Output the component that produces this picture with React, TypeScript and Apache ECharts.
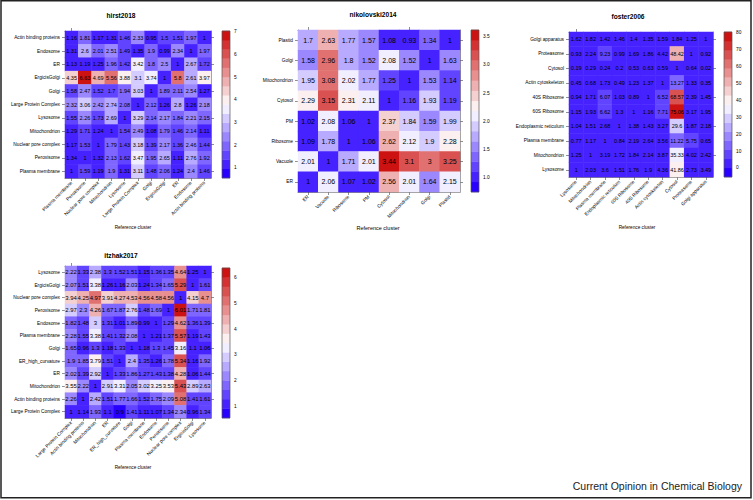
import { useEffect, useRef } from "react";
import * as echarts from "echarts";

// ---------------- DATA ----------------
const hirstRows = ["Actin binding proteins", "Endosome", "ER", "ErgicisGolgi", "Golgi", "Large Protein Complex", "Lysosome", "Mitochondrion", "Nuclear pore complex", "Peroxisome", "Plasma membrane"];
const hirstCols = ["Plasma membrane", "Peroxisome", "Nuclear pore complex", "Mitochondrion", "Lysosome", "Large Protein Complex", "Golgi", "ErgicisGolgi", "ER", "Endosome", "Actin binding proteins"];
const hirstValues = [
  [1.16, 1.81, 1.17, 1.31, 1.46, 2.33, 0.95, 1.5, 1.51, 1.97, 1],
  [1.31, 2.6, 2.01, 2.51, 1.49, 1.35, 1.9, 0.99, 2.34, 1, 1.97],
  [1.13, 1.19, 1.25, 1.96, 1.42, 3.42, 1.8, 2.5, 1, 2.67, 1.72],
  [4.35, 6.63, 4.69, 5.56, 3.88, 3.1, 3.74, 1, 5.8, 2.61, 3.97],
  [1.58, 2.47, 1.52, 1.7, 1.94, 3.03, 1, 1.89, 2.11, 2.54, 1.27],
  [2.32, 3.06, 2.42, 2.74, 2.08, 1, 2.12, 1.26, 2.8, 1.26, 2.18],
  [1.55, 2.26, 1.73, 2.69, 1, 3.29, 2.14, 2.17, 1.84, 2.21, 2.15],
  [1.29, 1.71, 1.24, 1, 1.54, 2.49, 1.08, 1.79, 1.46, 2.14, 1.11],
  [1.17, 1.53, 1, 1.79, 1.43, 3.18, 1.39, 2.17, 1.36, 2.46, 1.44],
  [1.34, 1, 1.32, 2.13, 1.62, 3.47, 1.95, 2.65, 1.11, 2.76, 1.92],
  [1, 1.59, 1.19, 1.9, 1.31, 3.11, 1.48, 2.06, 1.24, 2.4, 1.46],
];
const hirstTicks = [1, 2, 3, 4, 5, 6, 7];

const nikoRows = ["Plastid", "Golgi", "Mitochondrion", "Cytosol", "PM", "Ribosome", "Vacuole", "ER"];
const nikoCols = ["ER", "Vacuole", "Ribosome", "PM", "Cytosol", "Mitochondrion", "Golgi", "Plastid"];
const nikoValues = [
  [1.7, 2.63, 1.77, 1.57, 1.08, 0.93, 1.34, 1],
  [1.58, 2.96, 1.8, 1.52, 2.08, 1.52, 1, 1.63],
  [1.95, 3.08, 2.02, 1.77, 1.25, 1, 1.53, 1.14],
  [2.29, 3.15, 2.31, 2.11, 1, 1.16, 1.93, 1.19],
  [1.02, 2.08, 1.06, 1, 2.37, 1.84, 1.59, 1.99],
  [1.09, 1.78, 1, 1.06, 2.62, 2.12, 1.9, 2.28],
  [2.01, 1, 1.71, 2.01, 3.44, 3.1, 3, 3.25],
  [1, 2.06, 1.07, 1.02, 2.56, 2.01, 1.64, 2.15],
];
const nikoTicks = [1.0, 1.5, 2.0, 2.5, 3.0, 3.5];

const fosterRows = ["Golgi apparatus", "Proteasome", "Cytosol", "Actin cytoskeleton", "40S Ribosome", "60S Ribosome", "Endoplasmic reticulum", "Plasma membrane", "Mitochondrion", "Lysosome"];
const fosterCols = ["Lysosome", "Mitochondrion", "Plasma membrane", "Endoplasmic reticulum", "60S Ribosome", "40S Ribosome", "Actin cytoskeleton", "Cytosol", "Proteasome", "Golgi apparatus"];
const fosterValues = [
  [1.62, 1.82, 1.42, 1.46, 1.4, 1.35, 1.59, 1.84, 1.25, 1],
  [0.93, 2.24, 9.23, 0.99, 1.69, 1.86, 4.42, 48.42, 1, 0.92],
  [0.19, 0.29, 0.24, 0.2, 0.53, 0.63, 0.59, 1, 0.64, 0.02],
  [0.45, 0.68, 1.73, 0.49, 1.23, 1.37, 1, 13.27, 1.33, 0.35],
  [0.94, 1.71, 6.07, 1.03, 0.89, 1, 6.52, 68.57, 2.39, 1.45],
  [1.15, 1.93, 6.62, 1.3, 1, 1.16, 7.71, 75.06, 3.17, 1.95],
  [1.04, 1.51, 2.68, 1, 1.38, 1.43, 3.27, 29.6, 1.87, 2.18],
  [0.77, 1.17, 1, 0.84, 2.19, 2.64, 3.56, 11.22, 5.75, 0.65],
  [1.25, 1, 3.19, 1.72, 1.84, 2.14, 3.87, 35.33, 4.02, 2.42],
  [1, 2.03, 3.6, 1.51, 1.76, 1.9, 4.36, 41.86, 2.73, 3.49],
];
const fosterTicks = [0, 10, 20, 30, 40, 50, 60, 70, 80];

const itzhakRows = ["Lysosome", "ErgicisGolgi", "Nuclear pore complex", "Peroxisome", "Endosome", "Plasma membrane", "Golgi", "ER_high_curvature", "ER", "Mitochondrion", "Actin binding proteins", "Large Protein Complex"];
const itzhakCols = ["Large Protein Complex", "Actin binding proteins", "Mitochondrion", "ER", "ER_high_curvature", "Golgi", "Plasma membrane", "Endosome", "Peroxisome", "Nuclear pore complex", "ErgicisGolgi", "Lysosome"];
const itzhakValues = [
  [2.22, 1.33, 2.38, 1.3, 1.52, 1.51, 1.15, 1.36, 1.35, 4.64, 1.25, 1],
  [2.07, 1.51, 3.38, 1.26, 1.16, 2.03, 1.24, 1.34, 1.65, 5.29, 1, 1.61],
  [3.94, 4.25, 4.97, 3.91, 4.27, 4.53, 4.56, 4.58, 4.56, 1, 4.15, 4.7],
  [2.97, 2.3, 4.26, 1.67, 1.87, 2.76, 1.48, 1.69, 1, 6.01, 1.71, 1.81],
  [1.82, 1.48, 3, 1.31, 1.01, 1.89, 0.99, 1, 1.29, 4.62, 1.36, 1.39],
  [2.28, 1.55, 3.38, 1.41, 1.32, 2.08, 1, 1.21, 1.37, 5.57, 1.19, 1.43],
  [1.65, 0.96, 1.3, 1.18, 1.33, 1, 1.18, 1.3, 1.45, 3.16, 1.1, 1.06],
  [1.9, 1.85, 3.79, 1.51, 1, 2.4, 1.35, 1.26, 1.78, 5.34, 1.16, 1.92],
  [2.02, 1.39, 2.92, 1, 1.33, 1.86, 1.27, 1.43, 1.38, 4.28, 1.06, 1.44],
  [3.55, 2.22, 1, 2.91, 3.31, 2.05, 3.02, 3.25, 3.53, 5.43, 2.89, 2.63],
  [2.26, 1, 2.42, 1.51, 1.77, 1.66, 1.52, 1.75, 2.09, 5.08, 1.41, 1.61],
  [1, 1.14, 1.93, 1.1, 0.9, 1.41, 1.11, 1.07, 1.34, 2.34, 0.96, 1.34],
];
const itzhakTicks = [1, 2, 3, 4, 5, 6];

// ---------------- STYLE / LAYOUT ----------------
const FONT = "'Liberation Sans', Arial, Helvetica, sans-serif";
const BLUE = [40, 0, 255];
const WHITE = [255, 255, 255];
const RED = [205, 18, 18];
const NBINS = 16;

function ramp(t: number) {
  const a = t < 0.5 ? BLUE : WHITE;
  const b = t < 0.5 ? WHITE : RED;
  const u = t < 0.5 ? t / 0.5 : (t - 0.5) / 0.5;
  const c = a.map((v, i) => Math.round(v + (b[i] - v) * u));
  return `rgb(${c[0]},${c[1]},${c[2]})`;
}

type Panel = {
  name: string; rows: string[]; cols: string[]; values: number[][]; ticks: number[];
  tickFmt: (v: number) => string;
  plot: { left: number; top: number; width: number; height: number };
  bar: { left: number; top: number; width: number; height: number };
  cellFont: number; title: [number, number]; xname: [number, number]; xnameFont: number;
};

const panels: Panel[] = [
  {
    name: "hirst2018", rows: hirstRows, cols: hirstCols, values: hirstValues, ticks: hirstTicks,
    tickFmt: (v) => String(v),
    plot: { left: 65, top: 31, width: 146, height: 147 },
    bar: { left: 222, top: 31, width: 8, height: 147 },
    cellFont: 5.5, title: [121, 15], xname: [133, 227], xnameFont: 4.7,
  },
  {
    name: "nikolovski2014", rows: nikoRows, cols: nikoCols, values: nikoValues, ticks: nikoTicks,
    tickFmt: (v) => v.toFixed(1),
    plot: { left: 298, top: 30, width: 162, height: 162 },
    bar: { left: 471, top: 30, width: 8, height: 162 },
    cellFont: 7, title: [373, 14], xname: [378, 228], xnameFont: 5.5,
  },
  {
    name: "foster2006", rows: fosterRows, cols: fosterCols, values: fosterValues, ticks: fosterTicks,
    tickFmt: (v) => String(v),
    plot: { left: 569, top: 32, width: 144, height: 145 },
    bar: { left: 724, top: 32, width: 8, height: 145 },
    cellFont: 5.5, title: [628, 16], xname: [637, 227], xnameFont: 4.7,
  },
  {
    name: "itzhak2017", rows: itzhakRows, cols: itzhakCols, values: itzhakValues, ticks: itzhakTicks,
    tickFmt: (v) => String(v),
    plot: { left: 65, top: 266, width: 146, height: 152 },
    bar: { left: 222, top: 268, width: 8, height: 150 },
    cellFont: 5.9, title: [121, 255], xname: [133, 467], xnameFont: 4.7,
  },
];

function buildOption() {
  const grid: any[] = [];
  const xAxis: any[] = [];
  const yAxis: any[] = [];
  const series: any[] = [];
  const visualMap: any[] = [];
  const graphic: any[] = [];

  const frameColor = "#8c8c8c";
  const tickColor = "#444";

  panels.forEach((p) => {
    const flat = p.values.flat();
    const vmin = Math.min(...flat);
    const vmax = Math.max(...flat);
    const step = (vmax - vmin) / (NBINS - 2);
    const lo = vmin - step;
    const hi = vmax + step;
    const bins = Array.from({ length: NBINS }, (_, i) => ({
      lo: lo + i * step,
      hi: lo + (i + 1) * step,
      color: ramp(i / (NBINS - 1)),
    }));

    const gPlot = grid.length;
    grid.push({ ...p.plot, containLabel: false });
    const gBar = grid.length;
    grid.push({ ...p.bar, containLabel: false });

    const catAxisCommon = {
      type: "category",
      gridIndex: gPlot,
      axisLine: { show: true, lineStyle: { color: frameColor, width: 1 } },
      axisTick: { show: true, alignWithLabel: true, length: 3, lineStyle: { color: tickColor, width: 0.6 } },
      splitLine: { show: false },
    };

    const xBottom = xAxis.length;
    xAxis.push({
      ...catAxisCommon, data: p.cols, position: "bottom",
      axisLabel: { rotate: 45, fontSize: 4.8, color: "#000", fontFamily: FONT, margin: 4, interval: 0 },
    });
    xAxis.push({ ...catAxisCommon, data: p.cols, position: "top", axisLabel: { show: false } });
    const xBar = xAxis.length;
    xAxis.push({ type: "value", gridIndex: gBar, min: 0, max: 1, show: false });

    const yLeft = yAxis.length;
    yAxis.push({
      ...catAxisCommon, data: p.rows, position: "left", inverse: true,
      axisLabel: { fontSize: 4.8, color: "#000", fontFamily: FONT, margin: 5, interval: 0 },
    });
    yAxis.push({ ...catAxisCommon, data: p.rows, position: "right", inverse: true, axisLabel: { show: false } });
    const yBar = yAxis.length;
    yAxis.push({
      type: "value", gridIndex: gBar, min: lo, max: hi, position: "right",
      axisLine: { show: false },
      axisTick: { show: true, length: 3, customValues: p.ticks, lineStyle: { color: tickColor, width: 0.6 } },
      axisLabel: { customValues: p.ticks, formatter: (v: number) => p.tickFmt(v), fontSize: 4.8, color: "#000", fontFamily: FONT, margin: 4 },
      splitLine: { show: false },
    });

    const hmIndex = series.length;
    series.push({
      type: "heatmap",
      xAxisIndex: xBottom,
      yAxisIndex: yLeft,
      data: p.values.flatMap((row, r) => row.map((v, c) => [c, r, v])),
      label: {
        show: true,
        formatter: (d: any) => String(d.value[2]),
        fontSize: p.cellFont,
        color: "#000",
        fontFamily: FONT,
      },
      itemStyle: { borderWidth: 0 },
      emphasis: { disabled: true },
      progressive: 0,
    });
    visualMap.push({
      type: "piecewise",
      show: false,
      seriesIndex: hmIndex,
      dimension: 2,
      pieces: bins.map((b, i) => (i === NBINS - 1 ? { gte: b.lo, lte: b.hi + 1e-9, color: b.color } : { gte: b.lo, lt: b.hi, color: b.color })),
    });

    series.push({
      type: "custom",
      xAxisIndex: xBar,
      yAxisIndex: yBar,
      data: bins.map((b, i) => [b.lo, b.hi, i]),
      encode: { y: [0, 1] },
      renderItem: (_params: any, api: any) => {
        const a = api.coord([0, api.value(1)]);
        const b = api.coord([1, api.value(0)]);
        const idx = api.value(2);
        return {
          type: "rect",
          shape: { x: a[0], y: a[1] - 0.2, width: b[0] - a[0], height: b[1] - a[1] + 0.4 },
          style: { fill: bins[idx].color },
        };
      },
      silent: true,
    });
    series.push({
      type: "custom",
      xAxisIndex: xBar,
      yAxisIndex: yBar,
      data: [[lo, hi]],
      encode: { y: [0, 1] },
      renderItem: (_params: any, api: any) => {
        const a = api.coord([0, api.value(1)]);
        const b = api.coord([1, api.value(0)]);
        return {
          type: "rect",
          shape: { x: a[0], y: a[1], width: b[0] - a[0], height: b[1] - a[1] },
          style: { fill: "none", stroke: "#555", lineWidth: 0.7 },
          z2: 10,
        };
      },
      silent: true,
    });

    graphic.push({
      type: "text", left: undefined, x: p.title[0], y: p.title[1],
      style: { text: p.name, font: `bold 6.6px ${FONT}`, fill: "#000", align: "center", verticalAlign: "middle" },
    });
    graphic.push({
      type: "text", x: p.xname[0], y: p.xname[1],
      style: { text: "Reference cluster", font: `${p.xnameFont}px ${FONT}`, fill: "#000", align: "center", verticalAlign: "middle" },
    });
  });

  graphic.push({
    type: "text", x: 742, y: 486,
    style: { text: "Current Opinion in Chemical Biology", font: `10.5px ${FONT}`, fill: "#222", align: "right", verticalAlign: "middle" },
  });
  graphic.push({
    type: "rect", shape: { x: 1, y: 0.75, width: 750, height: 497 },
    style: { fill: "none", stroke: "#222", lineWidth: 1.5 },
  });

  return {
    animation: false,
    backgroundColor: "#fff",
    textStyle: { fontFamily: FONT },
    grid, xAxis, yAxis, series, visualMap, graphic,
  };
}

export default function App() {
  const ref = useRef<HTMLDivElement>(null);
  useEffect(() => {
    if (!ref.current) return;
    const chart = echarts.init(ref.current, undefined, { renderer: "svg" });
    chart.setOption(buildOption() as any);
    return () => chart.dispose();
  }, []);
  return <div ref={ref} style={{ position: "absolute", left: 0, top: 0, width: 753, height: 500 }} />;
}
